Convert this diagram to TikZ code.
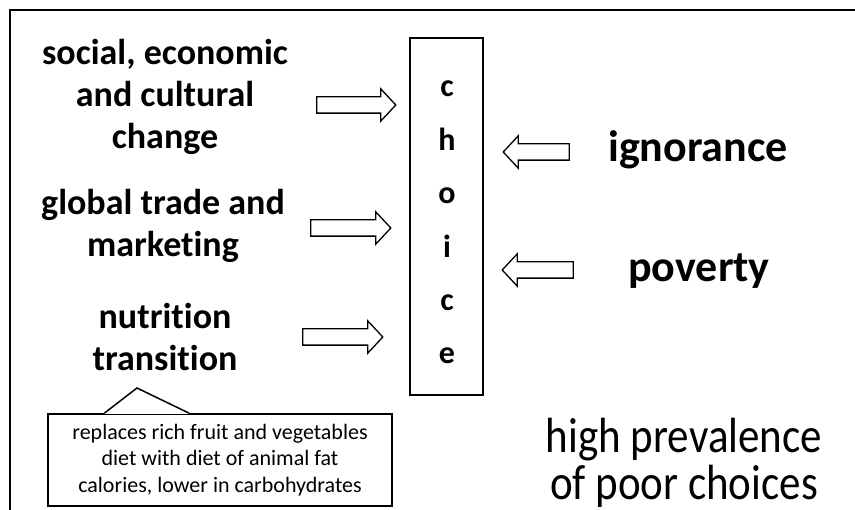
\documentclass[tikz,border=0pt]{standalone}
\usepackage{fontspec}
\setmainfont{Carlito}[Ligatures={NoCommon}]
\usepackage{graphicx}
\usetikzlibrary{shapes.arrows,calc}

\begin{document}
\begin{tikzpicture}[
    x=1pt, y=-1pt,
    cause/.style={align=center, font=\fontsize{36}{42}\selectfont\bfseries},
    barrier/.style={font=\fontsize{44}{50}\selectfont\bfseries},
    letter/.style={anchor=base, font=\fontsize{32}{36}\selectfont\bfseries},
    choicebox/.style={draw, line width=2pt, minimum width=73pt, minimum height=357pt, inner sep=0pt},
    blockarrow/.style={single arrow, draw, line width=1.3pt, fill=white, inner xsep=0pt, inner ysep=7.5pt,
        single arrow head extend=8pt, single arrow tip angle=94, minimum height=#1},
    note/.style={draw, line width=1.5pt, fill=white, minimum width=344pt, minimum height=92pt,
        align=center, font=\fontsize{22}{26.5}\selectfont},
    outcome/.style={anchor=base, inner sep=0pt, font=\fontsize{43}{36}\selectfont},
    frame/.style={line width=1.5pt}
]
    \useasboundingbox (0,0) rectangle (855,510);

    % outer frame (only top and left visible)
    \draw[frame] (10,530) -- (10,10) -- (870,10);

    % choice column
    \node[choicebox] (choice) at (446.5,216.5) {};
    \foreach \l [count=\i] in {c,h,o,i,c,e}
        \node[letter] (l\i) at (447,{97+53.4*(\i-1)}) {\l};

    % drivers on the left
    \node[cause] (social) at (165,97) {social, economic\\and cultural\\change};
    \node[cause] (trade) at (163,226) {global trade and\\marketing};
    \node[cause] (nutrition) at (165,337) {nutrition\\transition};

    \node[blockarrow=79pt] (arrA) at (352.5,105) {};
    \node[blockarrow=80pt] (arrB) at (347,228) {};
    \node[blockarrow=80pt] (arrC) at (339,337) {};

    % barriers on the right
    \node[barrier] (ignorance) at (698,150) {ignorance};
    \node[barrier] (poverty) at (699,271) {poverty};

    \node[blockarrow=66pt, shape border rotate=180] (arrD) at (540,152) {};
    \node[blockarrow=71pt, shape border rotate=180] (arrE) at (541.5,270) {};

    % outcome
    \node[outcome] (outcome) at (684,453) {\scalebox{1}[1.15]{\begin{tabular}[t]{@{}c@{}}high prevalence\\of poor choices\end{tabular}}};

    % callout under nutrition transition
    \node[note] (note) at (220,460) {replaces rich fruit and vegetables\\diet with diet of animal fat\\calories, lower in carbohydrates};
    \coordinate (tip) at (137,388);
    \coordinate (baseL) at ($(note.north west)+(57,0)$);
    \coordinate (baseR) at ($(note.north west)+(142,0)$);
    \draw[white, line width=2.5pt] (baseL) -- (baseR);
    \draw[line width=1.5pt] (baseL) -- (tip) -- (baseR);
\end{tikzpicture}
\end{document}
